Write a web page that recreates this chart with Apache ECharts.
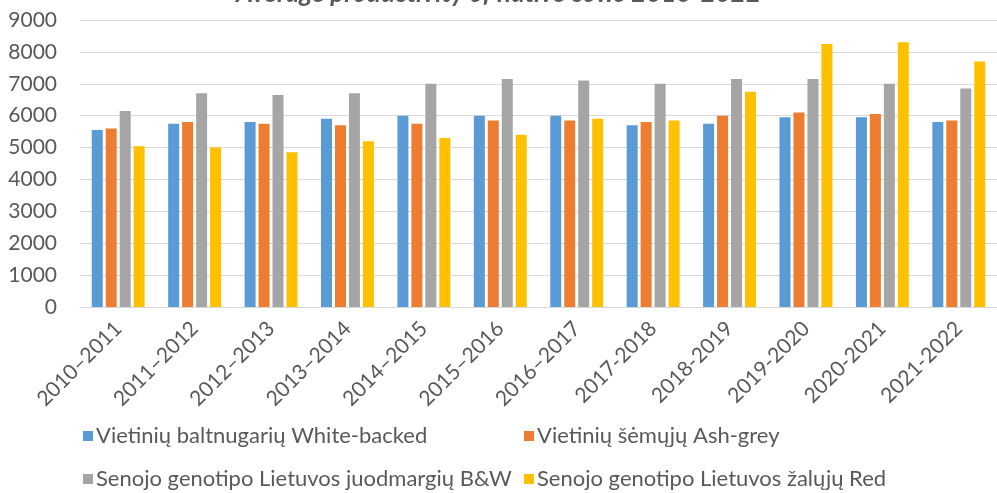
<!DOCTYPE html>
<html>
<head>
<meta charset="utf-8">
<script src="https://cdn.jsdelivr.net/npm/echarts@6/dist/echarts.min.js"></script>
<style>
  html, body { margin: 0; padding: 0; background: #fff; }
  #main { width: 997px; height: 493px; }
</style>
</head>
<body>
<div id="main"></div>
<script>
var seasons = ['2010–2011', '2011–2012', '2012–2013', '2013–2014', '2014–2015', '2015–2016',
    '2016–2017', '2017-2018', '2018-2019', '2019-2020', '2020-2021', '2021-2022'];

var whiteBacked = [5550, 5750, 5800, 5900, 6000, 6000, 6000, 5700, 5750, 5950, 5950, 5800];
var ashGrey     = [5600, 5800, 5750, 5700, 5750, 5850, 5850, 5800, 6000, 6100, 6050, 5850];
var blackWhite  = [6150, 6700, 6650, 6700, 7000, 7150, 7100, 7000, 7150, 7150, 7000, 6850];
var redCows     = [5040, 5000, 4850, 5200, 5300, 5400, 5900, 5850, 6750, 8250, 8300, 7700];

var names = [
    'Vietinių baltnugarių White-backed',
    'Vietinių šėmųjų Ash-grey',
    'Senojo genotipo Lietuvos juodmargių B&W',
    'Senojo genotipo Lietuvos žalųjų Red'
];
var colors = ['#5B9BD5', '#ED7D31', '#A5A5A5', '#FFC000'];
var values = [whiteBacked, ashGrey, blackWhite, redCows];

var font = 'Lato, "Open Sans", sans-serif';
var textColor = '#595959';

var myChart = echarts.init(document.getElementById('main'));

var series = [];
for (var i = 0; i < names.length; i++) {
    series.push({
        name: names[i],
        type: 'bar',
        data: values[i],
        barWidth: 11,
        barGap: '27%',
        itemStyle: { color: colors[i] }
    });
}

// excel puts the legend in two columns, so one vertical legend per column
function legendBox(left, items) {
    return {
        orient: 'vertical',
        left: left,
        top: 420,
        height: 120,
        itemGap: 21,
        itemWidth: 10,
        itemHeight: 10,
        icon: 'rect',
        data: items,
        textStyle: { color: textColor, fontSize: 22, fontFamily: font, padding: [0, 0, 0, -2] }
    };
}

var option = {
    animation: false,
    color: colors,
    title: {
        text: 'Average productivity of native cows 2010-2022',
        left: 'center',
        top: -24,
        textStyle: {
            color: textColor,
            fontSize: 26,
            fontWeight: 'bold',
            fontStyle: 'italic',
            fontFamily: font
        }
    },
    legend: [
        legendBox(78, [names[0], names[2]]),
        legendBox(519, [names[1], names[3]])
    ],
    grid: {
        left: 80,
        right: -25,
        top: 20,
        bottom: 186
    },
    xAxis: {
        type: 'category',
        data: seasons,
        axisTick: { show: false },
        axisLine: { lineStyle: { color: '#d9d9d9', width: 1 } },
        axisLabel: {
            rotate: 45,
            interval: 0,
            margin: 18,
            color: textColor,
            fontSize: 21,
            fontFamily: font
        }
    },
    yAxis: {
        type: 'value',
        min: 0,
        max: 9000,
        interval: 1000,
        axisLine: { show: false },
        axisTick: { show: false },
        splitLine: { lineStyle: { color: '#d9d9d9', width: 1 } },
        axisLabel: {
            margin: 23,
            color: textColor,
            fontSize: 21,
            fontFamily: font,
            formatter: function (v) { return String(v); }
        }
    },
    series: series
};

myChart.setOption(option);
</script>
</body>
</html>
